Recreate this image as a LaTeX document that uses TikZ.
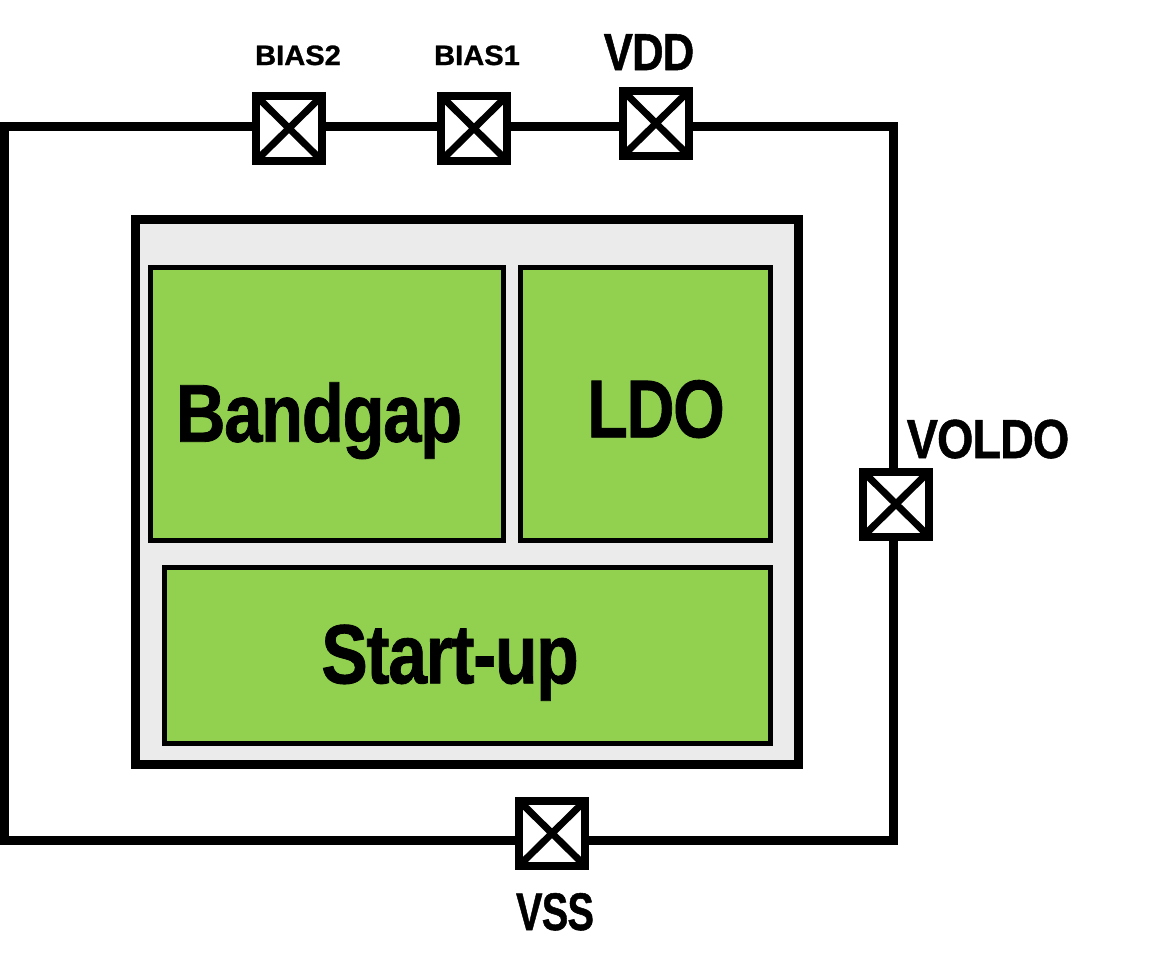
\documentclass[tikz,border=0pt]{standalone}
\usepackage{fontspec}
\setmainfont{Liberation Sans}
\newfontfamily\heavy[FakeBold=1,LetterSpace=-2]{Liberation Sans Bold}
\newfontfamily\heavyb[FakeBold=1]{Liberation Sans Bold}
\definecolor{blockgreen}{HTML}{92D050}
\definecolor{panelgray}{HTML}{EBEBEB}
\begin{document}
\begin{tikzpicture}[x=1pt,y=-1pt,
  ring/.style={line width=9pt},
  padbox/.style={draw, line width=8pt, fill=white, minimum width=66pt, minimum height=65pt, inner sep=0pt,
    path picture={\draw[line width=7pt] (path picture bounding box.north west) -- (path picture bounding box.south east)
      (path picture bounding box.north east) -- (path picture bounding box.south west);}},
  panel/.style={draw, line width=9pt, fill=panelgray, inner sep=0pt},
  block/.style={draw, line width=5pt, fill=blockgreen, inner sep=0pt},
  lbl/.style={anchor=base, inner sep=0pt}
]
\useasboundingbox (0,0) rectangle (1168,978);
% outer ring
\coordinate (ringtl) at (4.5,126);
\coordinate (ringbr) at (893.5,840.5);
\draw[ring] (ringtl) rectangle (ringbr);
% container
\node[panel, minimum width=662.8pt, minimum height=545pt] (core) at (466.9,492) {};
\node[block, minimum width=352.8pt, minimum height=272.5pt] (bgbox) at (326.9,403.75) {};
\node[block, minimum width=249.8pt, minimum height=272.5pt] (ldobox) at (645.4,403.75) {};
\node[block, minimum width=606pt, minimum height=175.8pt] (subox) at (467.3,655.4) {};
\node[lbl] (bgtxt) at (319,441.7) {\heavy\fontsize{82}{90}\selectfont\scalebox{0.84}[1]{Bandgap}};
\node[lbl] (ldotxt) at (656,437.3) {\heavy\fontsize{82}{90}\selectfont\scalebox{0.81}[1]{LDO}};
\node[lbl] (sutxt) at (450,683.3) {\heavy\fontsize{84}{90}\selectfont\scalebox{0.83}[1]{Start-up}};
% pads
\node[padbox] (bias2) at (289,128.3) {};
\node[padbox] (bias1) at (474,128.3) {};
\node[padbox] (vdd) at (656,123.3) {};
\node[padbox] (voldo) at (896,504) {};
\node[padbox] (vss) at (552,833.3) {};
% pad labels
\node[lbl] (bias2txt) at (298,65) {\heavyb\fontsize{28}{32}\selectfont\scalebox{1.04}[1]{BIAS2}};
\node[lbl] (bias1txt) at (477,65) {\heavyb\fontsize{28}{32}\selectfont\scalebox{1.04}[1]{BIAS1}};
\node[lbl] (vddtxt) at (649,70) {\heavy\fontsize{52}{60}\selectfont\scalebox{0.84}[1]{VDD}};
\node[lbl] (voldotxt) at (988,458) {\heavy\fontsize{55}{60}\selectfont\scalebox{0.85}[1]{VOLDO}};
\node[lbl] (vsstxt) at (555,930) {\heavy\fontsize{53}{60}\selectfont\scalebox{0.75}[1]{VSS}};
\end{tikzpicture}
\end{document}
